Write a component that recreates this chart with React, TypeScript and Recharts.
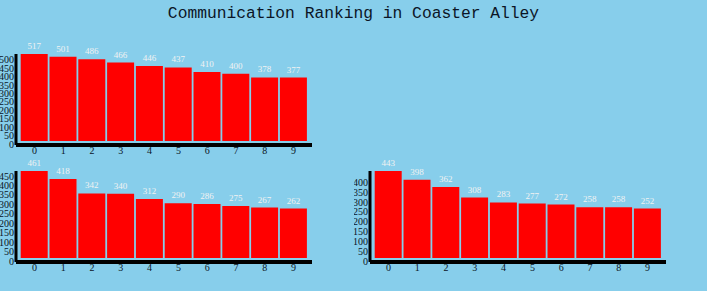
import { BarChart, Bar, XAxis, YAxis, LabelList } from 'recharts'

const title = 'Communication Ranking in Coaster Alley'

const categories = ['0', '1', '2', '3', '4', '5', '6', '7', '8', '9']

const topValues = [517, 501, 486, 466, 446, 437, 410, 400, 378, 377]
const bottomLeftValues = [461, 418, 342, 340, 312, 290, 286, 275, 267, 262]
const bottomRightValues = [443, 398, 362, 308, 283, 277, 272, 258, 258, 252]

const topTicks = [0, 50, 100, 150, 200, 250, 300, 350, 400, 450, 500]
const bottomLeftTicks = [0, 50, 100, 150, 200, 250, 300, 350, 400, 450]
const bottomRightTicks = [0, 50, 100, 150, 200, 250, 300, 350, 400]

const BG = '#87CEEB'
const TEXT = '#0b1526'
const FONT = '"Liberation Serif", serif'

function toRows(values: number[]) {
  return categories.map((c, i) => ({ name: c, value: values[i] }))
}

interface PanelProps {
  values: number[]
  ticks: number[]
  left: number
  top: number
}

function Panel({ values, ticks, left, top }: PanelProps) {
  const data = toRows(values)
  return (
    <div style={{ position: 'absolute', left, top }}>
      <BarChart
        width={312}
        height={126}
        data={data}
        margin={{ top: 21, right: 0, bottom: 0, left: 0 }}
        barCategoryGap={0.7}
      >
        <XAxis
          dataKey="name"
          padding={{ left: 4, right: 4 }}
          axisLine={{ stroke: '#000', strokeWidth: 4 }}
          tickLine={false}
          tickSize={0}
          tickMargin={2}
          height={14}
          interval={0}
          tick={{ fontSize: 10, fill: TEXT, fontFamily: FONT }}
        />
        <YAxis
          width={16}
          domain={[0, 'dataMax']}
          ticks={ticks}
          interval={0}
          padding={{ top: 0, bottom: 4 }}
          axisLine={{ stroke: '#000', strokeWidth: 3 }}
          tickLine={false}
          tickSize={0}
          tickMargin={2}
          tick={{ fontSize: 10, fill: TEXT, fontFamily: FONT, dy: 3 }}
        />
        <Bar dataKey="value" fill="#ff0000" isAnimationActive={false}>
          <LabelList
            dataKey="value"
            position="top"
            offset={5}
            style={{ fontSize: 9, fill: '#f2f2f2', fontFamily: FONT }}
          />
        </Bar>
      </BarChart>
    </div>
  )
}

export default function App() {
  return (
    <div
      style={{
        position: 'absolute',
        left: 0,
        top: 0,
        width: 707,
        height: 291,
        background: BG,
        overflow: 'hidden',
      }}
    >
      <div
        style={{
          position: 'absolute',
          left: 0,
          top: 3,
          width: 707,
          textAlign: 'center',
          fontFamily: '"Liberation Mono", monospace',
          fontSize: 16.3,
          color: TEXT,
          lineHeight: '22px',
        }}
      >
        {title}
      </div>
      <Panel values={topValues} ticks={topTicks} left={0} top={33} />
      <Panel values={bottomLeftValues} ticks={bottomLeftTicks} left={0} top={150} />
      <Panel values={bottomRightValues} ticks={bottomRightTicks} left={354} top={150} />
    </div>
  )
}
